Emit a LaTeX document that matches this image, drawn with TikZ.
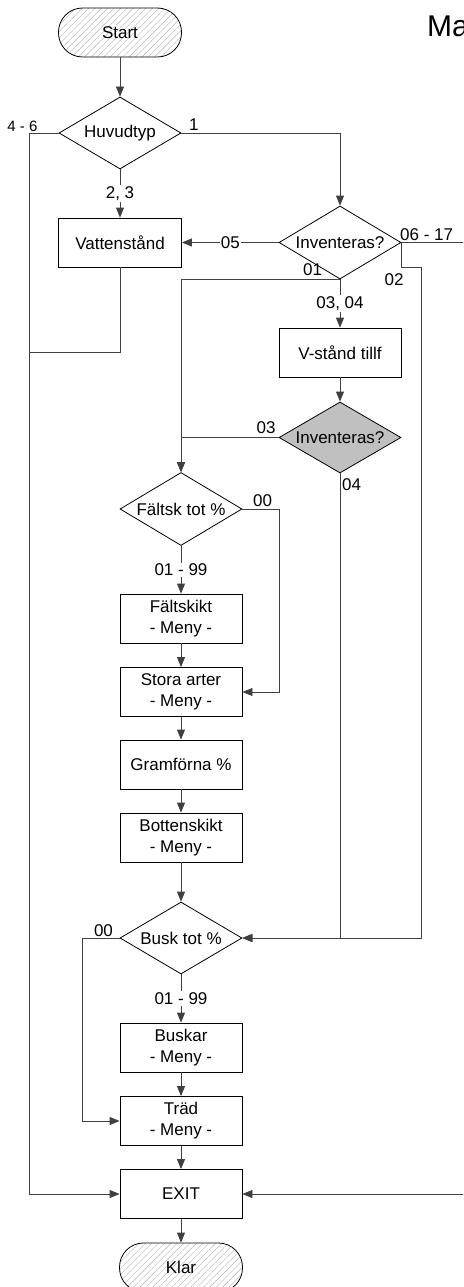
\documentclass[tikz,border=0pt]{standalone}
\usepackage{fontspec}
\setmainfont{Liberation Sans}
\usetikzlibrary{shapes.geometric,arrows.meta,patterns.meta}
\definecolor{silver}{HTML}{C0C0C0}
\definecolor{conn}{HTML}{404040}
\begin{document}
\begin{tikzpicture}[x=1pt,y=-1pt,
  font=\fontsize{17}{21}\selectfont,
  box/.style={draw=black, line width=0.8pt, minimum width=122pt, minimum height=49pt, inner sep=0pt, align=center, fill=white},
  dec/.style={diamond, draw=black, line width=0.8pt, minimum width=122pt, minimum height=72pt, inner sep=1pt, aspect=1.7, fill=white},
  term/.style={draw=black, line width=0.8pt, rounded corners=24pt, minimum width=123pt, minimum height=49pt, inner sep=0pt,
    pattern={Lines[angle=45,distance=4.5pt,line width=0.4pt]}, pattern color=gray!60},
  conline/.style={draw=conn, line width=0.8pt},
  arr/.style={conline, -{Triangle[length=10pt,width=8pt]}},
  mid/.style={fill=white, inner sep=1pt},
  lbl/.style={inner sep=0pt, anchor=base}
]
\clip (0,0) rectangle (463,1287);
% title
\node[anchor=base west, inner sep=0pt, font=\fontsize{30}{32}\selectfont] (title) at (427,37) {Ma};
% nodes
\node[term] (start) at (120,32.5) {Start};
\node[dec] (huv) at (120,133) {Huvudtyp};
\node[box, minimum width=123pt] (vat) at (120,242.5) {Vattenstånd};
\node[dec, minimum height=73pt] (inv1) at (340,242.5) {Inventeras?};
\node[box] (vst) at (340,352.5) {V-stånd tillf};
\node[dec, fill=silver, minimum height=71pt] (inv2) at (340,437.5) {Inventeras?};
\node[dec, minimum height=73pt] (falt) at (181,509) {Fältsk tot \%};
\node[box] (fsk) at (181,618.5) {Fältskikt\\- Meny -};
\node[box] (stora) at (181,692) {Stora arter\\- Meny -};
\node[box] (gram) at (181,764.5) {Gramförna \%};
\node[box] (bott) at (181,837.5) {Bottenskikt\\- Meny -};
\node[dec] (busk) at (181,938) {Busk tot \%};
\node[box] (buskar) at (181,1047.5) {Buskar\\- Meny -};
\node[box] (trad) at (181,1121) {Träd\\- Meny -};
\node[box] (exit) at (181,1194) {EXIT};
\node[term] (klar) at (181,1267.5) {Klar};
% helper coordinates
\coordinate (leftrail) at (30,352);
\coordinate (farright) at (490,242.5);
% connectors
\draw[arr] (start) -- (huv);
\draw[arr] (huv.west) -- ++(-29,0) |- (exit.west);
\draw[arr] (huv.east) -| (inv1.north);
\draw[arr] (huv.south) -- node[mid]{2, 3} (vat.north);
\draw[arr] (inv1.west) -- node[mid]{05} (vat.east);
\draw[conline] (vat.south) |- (leftrail);
\draw[arr] (inv1.east) -- (farright) |- (exit.east);
\draw[arr] (inv1.east) |- ++(20,24.5) |- (busk.east);
\draw[arr] (inv1.south) -| (falt.north);
\draw[arr] (inv1.south) -- node[mid]{03, 04} (vst.north);
\draw[arr] (vst) -- (inv2);
\draw[arr] (inv2.west) -| (falt.north);
\draw[arr] (inv2.south) |- (busk.east);
\draw[arr] (falt.east) -- ++(37,0) |- (stora.east);
\draw[arr] (falt.south) -- node[mid]{01 - 99} (fsk.north);
\draw[arr] (fsk) -- (stora);
\draw[arr] (stora) -- (gram);
\draw[arr] (gram) -- (bott);
\draw[arr] (bott) -- (busk);
\draw[arr] (busk.west) -- ++(-37,0) |- (trad.west);
\draw[arr] (busk.south) -- node[mid]{01 - 99} (buskar.north);
\draw[arr] (buskar) -- (trad);
\draw[arr] (trad) -- (exit);
\draw[arr] (exit) -- (klar);
% branch labels
\node[lbl, font=\fontsize{15}{17}\selectfont] (l46) at (22.5,131.5) {4 - 6};
\node[lbl, anchor=base west] (l1) at (189,131) {1};
\node[lbl, anchor=base west] (l0617) at (400,240) {06 - 17};
\node[lbl] (l02) at (394,285) {02};
\node[lbl] (l01) at (312.5,275) {01};
\node[lbl] (l03) at (266,433) {03};
\node[lbl, anchor=base west] (l04) at (342,490) {04};
\node[lbl] (l00a) at (262.5,506) {00};
\node[lbl] (l00b) at (103.5,936) {00};
\end{tikzpicture}
\end{document}
